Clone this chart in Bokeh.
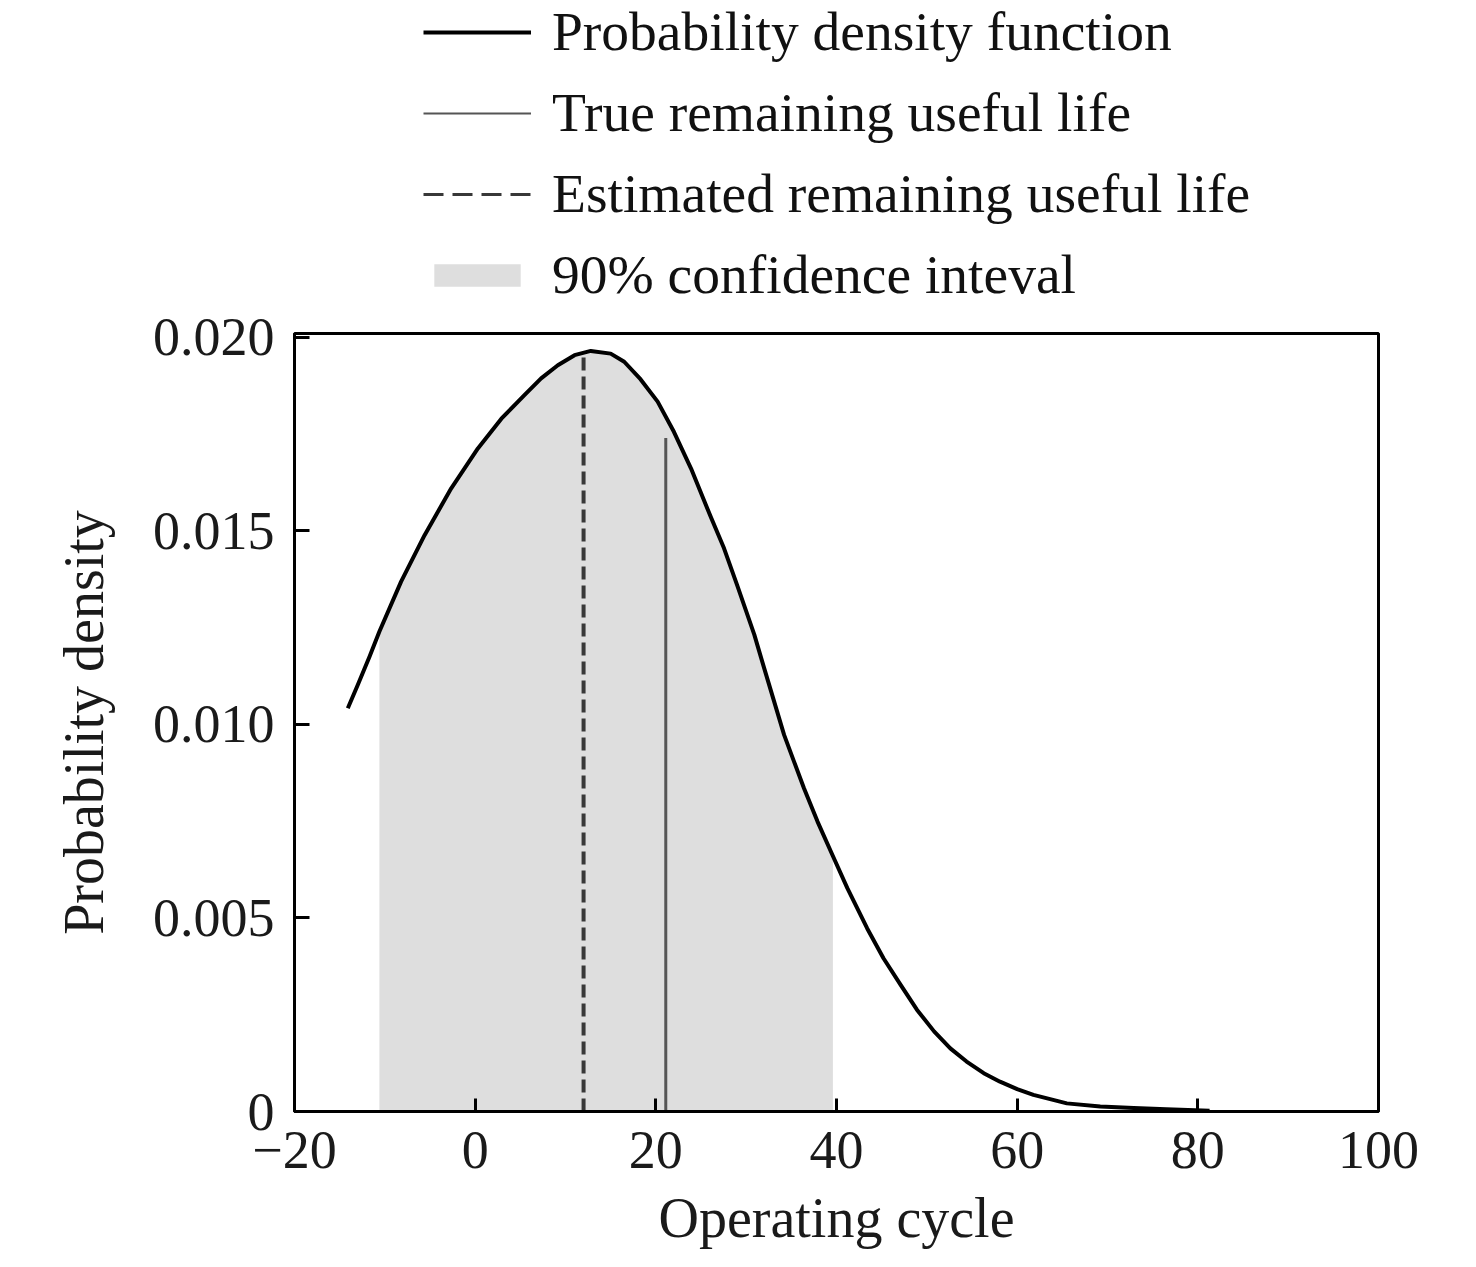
import numpy as np
from bokeh.plotting import figure
from bokeh.layouts import column
from bokeh.models import Range1d, FixedTicker, Legend, LegendItem, ColumnDataSource
from bokeh.embed import file_html
from bokeh.resources import INLINE

# ---- data ----
pdf_x = [-14.1, -13.0, -11.7, -10.6, -8.2, -5.6, -2.65, 0.3, 2.9, 5.45, 7.3, 9.15,
         11.0, 12.8, 15.0, 16.5, 18.3, 20.2, 22.0, 23.9, 26.1, 27.55, 29.0, 30.9,
         32.0, 33.1, 34.2, 35.3, 36.4, 37.9, 39.6, 41.2, 43.4, 45.2, 47.1, 48.9,
         50.8, 52.6, 54.4, 56.3, 58.1, 60.0, 61.8, 65.5, 69.2, 72.9, 76.5, 81.3]
pdf_y = [0.01042, 0.01102, 0.01175, 0.01240, 0.01369, 0.01489, 0.01610, 0.01713,
         0.01790, 0.01851, 0.01894, 0.01928, 0.01954, 0.01965, 0.01958, 0.01937,
         0.01892, 0.01834, 0.01756, 0.01661, 0.01535, 0.01455, 0.01360, 0.01232,
         0.01145, 0.01059, 0.00973, 0.00904, 0.00835, 0.00749, 0.00660, 0.00577,
         0.00473, 0.00396, 0.00327, 0.00263, 0.00207, 0.00163, 0.00129, 0.00099,
         0.00077, 0.00058, 0.00043, 0.00021, 0.00013, 0.00009, 0.00006, 0.00002]
ci_lower = -10.6
ci_upper = 39.6
true_rul = 21.1
true_rul_top = 0.0174
est_rul = 12.0
est_rul_top = 0.0196
x_ticks = [-20, 0, 20, 40, 60, 80, 100]
x_tick_labels = ["\u221220", "0", "20", "40", "60", "80", "100"]
y_ticks = [0, 0.005, 0.010, 0.015, 0.020]
y_tick_labels = ["0", "0.005", "0.010", "0.015", "0.020"]
legend_labels = ["Probability density function", "True remaining useful life",
                 "Estimated remaining useful life", "90% confidence inteval"]

FONT = "Liberation Serif"
FS_TICK = "54px"
FS_LABEL = "56px"
W = 1460
LEG_H = 307

# styles
PDF_STYLE = dict(line_color="black", line_width=4)
TRUE_STYLE = dict(line_color="#555555", line_width=3)
EST_STYLE = dict(line_color="#383838", line_width=4, line_dash="13 6")
CI_COLOR = "#dedede"

p = figure(width=W, height=1251 - LEG_H, output_backend="svg", toolbar_location=None,
           x_range=Range1d(-20, 100), y_range=Range1d(0, 0.0201),
           min_border_left=294, min_border_right=82, min_border_top=26,
           min_border_bottom=140)
p.grid.visible = False
p.background_fill_color = "white"
p.border_fill_color = "white"
p.outline_line_color = "black"
p.outline_line_width = 3

# confidence interval fill
px = np.array(pdf_x)
py = np.array(pdf_y)
mask = (px >= ci_lower) & (px <= ci_upper)
ci_src = ColumnDataSource(dict(x=px[mask], y1=np.zeros(mask.sum()), y2=py[mask]))
p.varea(x="x", y1="y1", y2="y2", source=ci_src, fill_color=CI_COLOR)

# lines
p.segment(x0=[est_rul], y0=[0], x1=[est_rul], y1=[est_rul_top], **EST_STYLE)
p.segment(x0=[true_rul], y0=[0], x1=[true_rul], y1=[true_rul_top], **TRUE_STYLE)
p.line(pdf_x, pdf_y, line_join="round", **PDF_STYLE)

# axes
for ax in (p.xaxis[0], p.yaxis[0]):
    ax.axis_line_width = 3
    ax.axis_line_color = "black"
    ax.major_tick_line_width = 3
    ax.major_tick_line_color = "black"
    ax.major_tick_out = 0
    ax.minor_tick_in = 0
    ax.minor_tick_out = 0
    ax.major_label_text_font = FONT
    ax.major_label_text_font_size = FS_TICK
    ax.major_label_text_color = "#1a1a1a"
    ax.axis_label_text_font = FONT
    ax.axis_label_text_font_size = FS_LABEL
    ax.axis_label_text_font_style = "normal"
    ax.axis_label_text_color = "#1a1a1a"
    ax.major_label_standoff = 20

p.xaxis.ticker = FixedTicker(ticks=x_ticks)
p.xaxis.major_label_overrides = {t: l for t, l in zip(x_ticks, x_tick_labels)}
p.xaxis.major_tick_in = 13
p.xaxis.axis_label = "Operating cycle"
p.xaxis.axis_label_standoff = 16

p.yaxis.ticker = FixedTicker(ticks=y_ticks)
p.yaxis.major_label_overrides = {t: l for t, l in zip(y_ticks, y_tick_labels)}
p.yaxis.major_tick_in = 15
p.yaxis.axis_label = "Probability density"
p.yaxis.axis_label_standoff = 35

# legend figure above the plot (its frame lines up with the main frame);
# the proxy renderers hold the real data but lie outside this figure's ranges
lf = figure(width=W, height=LEG_H, output_backend="svg", toolbar_location=None,
            x_range=Range1d(500, 600), y_range=Range1d(500, 600),
            min_border=0, outline_line_color=None)
lf.axis.visible = False
lf.grid.visible = False
l_pdf = lf.line(pdf_x, pdf_y, **PDF_STYLE)
l_true = lf.segment(x0=[true_rul], y0=[0], x1=[true_rul], y1=[true_rul_top],
                    line_color="#555555", line_width=2)
l_est = lf.segment(x0=[est_rul], y0=[0], x1=[est_rul], y1=[est_rul_top],
                   line_color="#383838", line_width=3, line_dash="20 9")
l_ci = lf.varea(x="x", y1="y1", y2="y2", source=ci_src, fill_color=CI_COLOR)

legend = Legend(items=[
    LegendItem(label=legend_labels[0], renderers=[l_pdf]),
    LegendItem(label=legend_labels[1], renderers=[l_true]),
    LegendItem(label=legend_labels[2], renderers=[l_est]),
    LegendItem(label=legend_labels[3], renderers=[l_ci]),
], location=(129, 1))
legend.label_text_font = FONT
legend.label_text_font_size = "55.5px"
legend.label_text_color = "#111111"
legend.glyph_width = 108
legend.glyph_height = 28
legend.label_height = 58
legend.spacing = 18
legend.label_standoff = 21
legend.padding = 0
legend.margin = 0
legend.border_line_color = None
legend.background_fill_alpha = 0
lf.add_layout(legend, "center")

open("out.html", "w").write(file_html(column(lf, p, spacing=0), INLINE))
